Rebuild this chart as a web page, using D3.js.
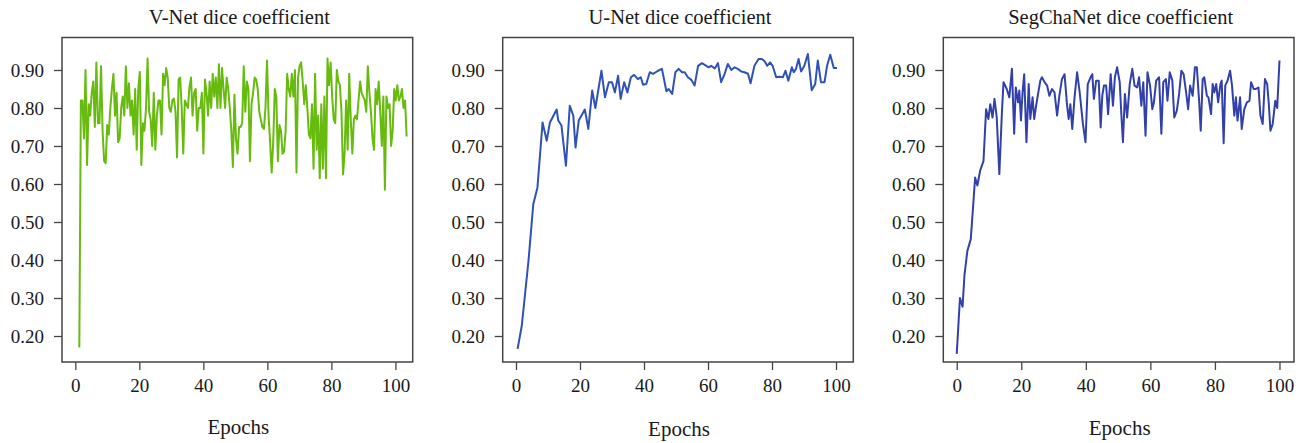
<!DOCTYPE html>
<meta charset="utf-8">
<style>
body { margin: 0; background: #fff; }
svg { display: block; }
.axis text { font: 19px "Liberation Serif", serif; fill: #1a1a1a; }
.axis line { stroke: #444; stroke-width: 1.3; }
.title { font: 20.5px "Liberation Serif", serif; fill: #1a1a1a; }
.xlabel { font: 21px "Liberation Serif", serif; fill: #1a1a1a; }
</style>
<body>
<svg width="1301" height="443"></svg>
<script src="https://cdn.jsdelivr.net/npm/d3@7"></script>
<script>

// V-Net: about two readings per epoch, spread evenly from epoch 1.25 to 103.5
var vnetFirst = 1.25, vnetLast = 103.5;
var vnetDice = [0.17, 0.82, 0.82, 0.72, 0.90, 0.65, 0.81, 0.78, 0.84, 0.87, 0.75, 0.92, 0.76, 0.76, 0.91,
  0.74, 0.66, 0.655, 0.755, 0.73, 0.80, 0.85, 0.89, 0.78, 0.84, 0.71, 0.72, 0.80, 0.83, 0.78, 0.91, 0.80,
  0.865, 0.78, 0.82, 0.73, 0.85, 0.69, 0.85, 0.895, 0.65, 0.76, 0.74, 0.80, 0.93, 0.79, 0.77, 0.70, 0.84,
  0.69, 0.78, 0.82, 0.82, 0.73, 0.89, 0.86, 0.905, 0.88, 0.80, 0.79, 0.82, 0.825, 0.79, 0.67, 0.875, 0.88,
  0.80, 0.68, 0.82, 0.81, 0.80, 0.855, 0.88, 0.78, 0.84, 0.85, 0.74, 0.80, 0.80, 0.84, 0.68, 0.875, 0.84,
  0.78, 0.87, 0.80, 0.89, 0.83, 0.88, 0.80, 0.915, 0.80, 0.905, 0.85, 0.80, 0.88, 0.85, 0.80, 0.74, 0.645,
  0.835, 0.72, 0.68, 0.75, 0.75, 0.76, 0.91, 0.79, 0.87, 0.85, 0.66, 0.81, 0.84, 0.88, 0.875, 0.85, 0.79,
  0.77, 0.75, 0.745, 0.80, 0.925, 0.78, 0.71, 0.63, 0.71, 0.85, 0.83, 0.66, 0.755, 0.74, 0.68, 0.685, 0.74,
  0.89, 0.85, 0.83, 0.89, 0.83, 0.90, 0.63, 0.88, 0.91, 0.92, 0.87, 0.81, 0.86, 0.80, 0.73, 0.72, 0.81,
  0.64, 0.89, 0.69, 0.78, 0.615, 0.81, 0.64, 0.83, 0.615, 0.93, 0.86, 0.92, 0.83, 0.77, 0.76, 0.90, 0.87,
  0.86, 0.79, 0.625, 0.68, 0.82, 0.69, 0.89, 0.77, 0.68, 0.77, 0.78, 0.77, 0.82, 0.87, 0.84, 0.83, 0.82,
  0.79, 0.91, 0.84, 0.79, 0.72, 0.69, 0.85, 0.81, 0.87, 0.79, 0.70, 0.83, 0.585, 0.83, 0.80, 0.81, 0.70,
  0.74, 0.85, 0.82, 0.86, 0.82, 0.83, 0.85, 0.80, 0.82, 0.725];

var unetEpochs = [0.5, 1.8, 3.9, 5.4, 6.7, 8.3, 9.6, 10.6, 12.7, 13.2, 14.2, 15.6, 16.8, 17.9, 18.6, 19.6,
  21.5, 22.6, 23.8, 24.8, 26.7, 27.8, 29.0, 30.0, 30.9, 31.9, 32.7, 33.8, 34.8, 35.9, 36.9, 38.1, 39.0,
  39.7, 40.7, 41.8, 42.8, 44.4, 45.6, 47.0, 47.7, 48.8, 49.8, 50.8, 51.9, 52.7, 53.7, 54.8, 55.8, 56.9,
  58.1, 59.1, 60.2, 61.0, 62.1, 63.1, 64.1, 65.2, 66.2, 67.3, 68.3, 69.3, 70.4, 71.4, 72.5, 73.3, 74.5,
  75.8, 76.8, 77.7, 78.5, 79.4, 80.2, 81.3, 82.3, 83.4, 84.2, 85.1, 86.2, 86.8, 87.5, 88.3, 89.1, 90.1,
  91.2, 92.4, 93.5, 94.3, 95.3, 96.4, 97.2, 98.2, 99.3, 100.3];
var unetDice = [0.166, 0.227, 0.398, 0.547, 0.591, 0.762, 0.714, 0.762, 0.796, 0.767, 0.754, 0.648, 0.806,
  0.78, 0.696, 0.767, 0.796, 0.745, 0.846, 0.80, 0.898, 0.828, 0.868, 0.868, 0.841, 0.885, 0.824, 0.868,
  0.841, 0.881, 0.887, 0.876, 0.881, 0.861, 0.863, 0.894, 0.89, 0.898, 0.903, 0.844, 0.85, 0.837, 0.894,
  0.903, 0.894, 0.894, 0.881, 0.874, 0.859, 0.911, 0.918, 0.913, 0.907, 0.911, 0.904, 0.918, 0.868, 0.89,
  0.916, 0.90, 0.907, 0.903, 0.896, 0.894, 0.89, 0.865, 0.911, 0.929, 0.929, 0.923, 0.911, 0.92, 0.911,
  0.881, 0.882, 0.881, 0.898, 0.872, 0.907, 0.894, 0.903, 0.929, 0.896, 0.911, 0.942, 0.847, 0.863, 0.925,
  0.868, 0.868, 0.911, 0.94, 0.905, 0.905];

var segEpochs = [0, 1.0, 1.8, 2.4, 3.3, 4.35, 5.2, 5.7, 6.4, 7.25, 8.3, 9.1, 9.8, 10.4, 11.1, 11.7, 12.4,
  13.2, 14.0, 14.5, 15.5, 16.3, 17.1, 17.8, 18.3, 19.0, 19.4, 19.9, 20.4, 20.9, 21.6, 22.3, 22.8, 23.5,
  24.0, 24.6, 25.2, 25.9, 26.4, 27.2, 28.0, 28.7, 29.5, 30.3, 31.1, 31.8, 32.6, 33.4, 34.2, 34.7, 35.2,
  35.8, 36.5, 37.3, 38.1, 39.1, 39.9, 40.6, 41.5, 42.0, 42.5, 43.2, 44.0, 44.6, 45.1, 45.6, 46.3, 46.9,
  47.7, 48.4, 49.0, 49.7, 50.5, 51.0, 51.5, 52.1, 52.8, 53.6, 54.4, 55.1, 55.9, 56.5, 57.2, 57.8, 58.5,
  59.1, 59.9, 60.6, 61.1, 61.8, 62.7, 63.4, 64.0, 64.8, 65.3, 66.0, 66.8, 67.4, 68.2, 68.9, 69.6, 70.3,
  71.0, 71.7, 72.3, 73.1, 73.8, 74.4, 75.1, 75.6, 76.2, 76.7, 77.5, 78.0, 78.8, 79.3, 79.8, 80.4, 81.0,
  81.7, 82.1, 82.7, 83.2, 83.9, 84.7, 85.3, 86.0, 86.5, 87.0, 87.8, 88.3, 89.1, 89.9, 90.7, 91.2, 92.0,
  92.7, 93.5, 94.1, 94.8, 95.5, 96.2, 96.7, 97.2, 97.9, 98.7, 99.3, 100.0];
var segDice = [0.153, 0.30, 0.277, 0.36, 0.424, 0.455, 0.556, 0.617, 0.596, 0.635, 0.661, 0.797, 0.771,
  0.81, 0.775, 0.824, 0.775, 0.626, 0.789, 0.868, 0.85, 0.828, 0.903, 0.732, 0.854, 0.815, 0.846, 0.767,
  0.841, 0.889, 0.71, 0.863, 0.771, 0.828, 0.771, 0.806, 0.837, 0.872, 0.881, 0.868, 0.859, 0.832, 0.85,
  0.841, 0.78, 0.832, 0.876, 0.889, 0.806, 0.771, 0.81, 0.745, 0.828, 0.894, 0.841, 0.758, 0.71, 0.863,
  0.881, 0.889, 0.824, 0.872, 0.872, 0.749, 0.832, 0.859, 0.859, 0.784, 0.889, 0.806, 0.881, 0.907, 0.868,
  0.784, 0.71, 0.837, 0.775, 0.863, 0.903, 0.859, 0.854, 0.881, 0.806, 0.868, 0.727, 0.894, 0.859, 0.797,
  0.815, 0.872, 0.881, 0.732, 0.868, 0.876, 0.819, 0.894, 0.872, 0.775, 0.793, 0.837, 0.898, 0.889, 0.846,
  0.797, 0.859, 0.832, 0.907, 0.907, 0.819, 0.74, 0.876, 0.881, 0.832, 0.828, 0.784, 0.863, 0.841, 0.863,
  0.815, 0.863, 0.872, 0.707, 0.859, 0.872, 0.898, 0.859, 0.78, 0.828, 0.767, 0.828, 0.745, 0.797, 0.815,
  0.819, 0.868, 0.85, 0.85, 0.854, 0.78, 0.758, 0.876, 0.863, 0.81, 0.74, 0.758, 0.819, 0.80, 0.925];

var yTicks = [0.2, 0.3, 0.4, 0.5, 0.6, 0.7, 0.8, 0.9];
var xTicks = [0, 20, 40, 60, 80, 100];

var vnetStep = (vnetLast - vnetFirst) / (vnetDice.length - 1);
var panels = [
  { title: "V-Net dice coefficient", color: "#66bb0e", left: 62, right: 412.7, xmax: 105.4,
    pts: vnetDice.map((v, i) => [vnetFirst + i * vnetStep, v]), xlabY: 434 },
  { title: "U-Net dice coefficient", color: "#2f52b6", left: 502.7, right: 853.3, xmax: 105.4,
    pts: unetEpochs.map((e, i) => [e, unetDice[i]]), xlabY: 436 },
  { title: "SegChaNet dice coefficient", color: "#3240aa", left: 943.3, right: 1294, xmax: 104.5,
    pts: segEpochs.map((e, i) => [e, segDice[i]]), xlabY: 435 }
];

var svg = d3.select("svg");
var plotTop = 37.5, plotBottom = 362;

var y = d3.scaleLinear().domain([0.1316, 0.9855]).range([plotBottom, plotTop]);

panels.forEach(p => {
  var x = d3.scaleLinear().domain([-4.16, p.xmax]).range([p.left, p.right]);
  var g = svg.append("g");

  g.append("g")
      .attr("class", "axis")
      .attr("transform", `translate(${p.left},0)`)
      .call(d3.axisLeft(y).tickValues(yTicks).tickFormat(d3.format(".2f")).tickSize(8).tickPadding(10))
      .call(a => a.select(".domain").remove());

  g.append("g")
      .attr("class", "axis")
      .attr("transform", `translate(0,${plotBottom})`)
      .call(d3.axisBottom(x).tickValues(xTicks).tickSize(8).tickPadding(9))
      .call(a => a.select(".domain").remove());

  var line = d3.line()
      .x(d => x(d[0]))
      .y(d => y(d[1]));

  g.append("path")
      .datum(p.pts)
      .attr("fill", "none")
      .attr("stroke", p.color)
      .attr("stroke-width", 2)
      .attr("stroke-linejoin", "round")
      .attr("d", line);

  g.append("rect")
      .attr("x", p.left)
      .attr("y", plotTop)
      .attr("width", p.right - p.left)
      .attr("height", plotBottom - plotTop)
      .attr("fill", "none")
      .attr("stroke", "#444")
      .attr("stroke-width", 1.5);

  g.append("text")
      .attr("class", "title")
      .attr("x", (p.left + p.right) / 2 + 2)
      .attr("y", 24)
      .attr("text-anchor", "middle")
      .text(p.title);

  g.append("text")
      .attr("class", "xlabel")
      .attr("x", (p.left + p.right) / 2 + 1)
      .attr("y", p.xlabY)
      .attr("text-anchor", "middle")
      .text("Epochs");
});

</script>
</body>
